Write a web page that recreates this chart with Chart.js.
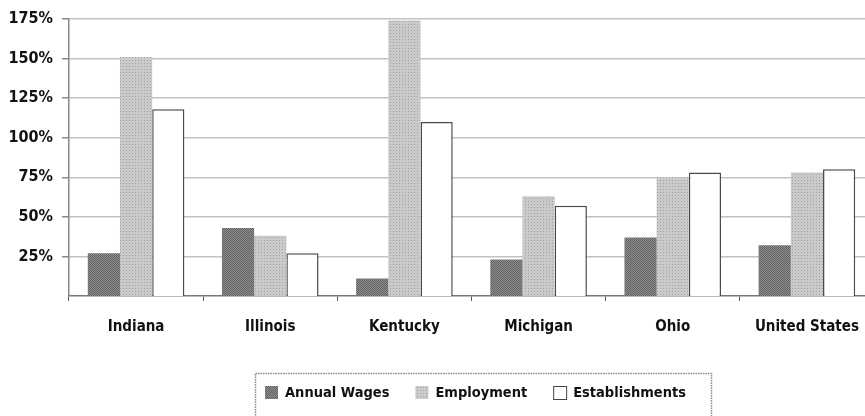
<!DOCTYPE html>
<html>
<head>
<meta charset="utf-8">
<script src="https://cdn.jsdelivr.net/npm/chart.js@4/dist/chart.umd.min.js"></script>
<style>
  html, body { margin: 0; padding: 0; background: #fff; overflow: hidden; }
  #wrap { width: 865px; height: 416px; overflow: hidden; }
</style>
</head>
<body>
<div id="wrap"><canvas id="chart" width="880" height="416"></canvas></div>
<script>
// ─── Data ────────────────────────────────────────────────
const categories = ["Indiana", "Illinois", "Kentucky", "Michigan", "Ohio", "United States"];
const annualWages = [27, 43, 11, 23, 37, 32];
const employment = [151, 38, 174, 63, 75, 78];
const establishments = [118, 27, 110, 57, 78, 80];
const yTicks = [25, 50, 75, 100, 125, 150, 175];

const FONT = "'Liberation Sans Narrow', 'DejaVu Sans Condensed', sans-serif";

// dotted fills, like the print halftone
function makePattern(a, b, size) {
  const c = document.createElement("canvas");
  c.width = size; c.height = size;
  const g = c.getContext("2d");
  g.fillStyle = a; g.fillRect(0, 0, size, size);
  g.fillStyle = b; g.fillRect(0, 0, 1, 1);
  if (size === 2) g.fillRect(1, 1, 1, 1);
  return g.createPattern(c, "repeat");
}
const ctx0 = document.getElementById("chart").getContext("2d");
const darkFill = makePattern("#8e8e8e", "#626262", 2);
const lightFill = makePattern("#cacaca", "#a4a4a4", 3);

// ─── Boxed legend under the axis ─────────────────────────
const boxedLegend = {
  id: "boxedLegend",
  afterDraw(chart) {
    const c = chart.ctx;
    const sets = chart.data.datasets;
    const left = 255, top = 373, right = 711;
    const textY = 393;
    c.save();
    c.strokeStyle = "#8a8a8a";
    c.lineWidth = 1.5;
    c.setLineDash([1.5, 1]);
    c.strokeRect(left + 0.5, top + 0.5, right - left, 60);
    c.setLineDash([]);
    c.font = "bold 14.5px " + FONT;
    c.textBaseline = "middle";
    let x = left + 10;
    sets.forEach((d, i) => {
      c.fillStyle = d.backgroundColor;
      c.fillRect(x, textY - 7, 13, 13);
      if (i === 2) {
        c.strokeStyle = "#444";
        c.lineWidth = 1;
        c.strokeRect(x + 0.5, textY - 6.5, 13, 13);
      }
      x += 20;
      c.fillStyle = "#111";
      c.fillText(d.label, x, textY);
      x += c.measureText(d.label).width + 26;
    });
    c.restore();
  }
};

new Chart(ctx0, {
  type: "bar",
  data: {
    labels: categories,
    datasets: [
      { label: "Annual Wages", data: annualWages, backgroundColor: darkFill, borderWidth: 0 },
      { label: "Employment", data: employment, backgroundColor: lightFill, borderWidth: 0 },
      { label: "Establishments", data: establishments, backgroundColor: "#ffffff", borderColor: "#4a4a4a", borderWidth: 1.5, borderSkipped: "bottom" },
    ]
  },
  options: {
    responsive: false,
    animation: false,
    layout: { padding: { top: 19, right: 6, left: 0, bottom: 50 } },
    datasets: { bar: { categoryPercentage: 0.72, barPercentage: 1.0 } },
    plugins: {
      tooltip: { enabled: false },
      legend: { display: false }
    },
    scales: {
      x: {
        grid: { display: true, drawOnChartArea: false, drawTicks: true, tickLength: 5, color: "#555", offset: true },
        border: { display: true, color: "#777", width: 1.5 },
        ticks: { color: "#111", padding: 17, font: { family: FONT, size: 15, weight: "bold" } },
        afterFit(s) { s.height = 70; }
      },
      y: {
        min: 0,
        max: 175,
        afterBuildTicks(s) { s.ticks = yTicks.map(v => ({ value: v })); },
        grid: { color: "#c2c2c2", lineWidth: 1.5, tickLength: 7, tickColor: "#888" },
        border: { display: true, color: "#888", width: 1.5 },
        ticks: {
          color: "#111",
          padding: 9,
          font: { family: FONT, size: 16, weight: "bold" },
          callback: v => v + "%"
        },
        afterFit(s) { s.width = 69; }
      }
    }
  },
  plugins: [boxedLegend]
});
</script>
</body>
</html>
